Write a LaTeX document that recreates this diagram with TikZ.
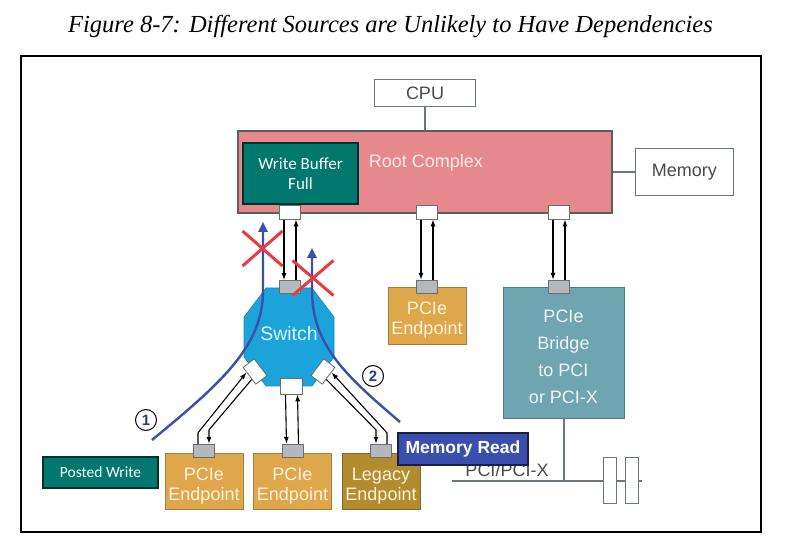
\documentclass[tikz,border=0pt]{standalone}
\usepackage{fontspec}
\usepackage{tikz}
\usetikzlibrary{positioning}
\usetikzlibrary{backgrounds}
\usetikzlibrary{calc}
\usetikzlibrary{arrows.meta}
\usetikzlibrary{shapes.misc}

\newfontfamily\diafont{Liberation Sans}
\newfontfamily\notefont{Carlito}
\newfontfamily\capfont{Liberation Serif}

\definecolor{rcpink}{HTML}{E5898D}
\definecolor{rcline}{HTML}{5E5E5E}
\definecolor{rctxt}{HTML}{FCE9EA}
\definecolor{wbteal}{HTML}{00786E}
\definecolor{swcyan}{HTML}{1BA3DA}
\definecolor{swtxt}{HTML}{DDF5FF}
\definecolor{epgold}{HTML}{DFA74C}
\definecolor{leggold}{HTML}{B48C30}
\definecolor{eptxt}{HTML}{FFF3DC}
\definecolor{brteal}{HTML}{6FA5B1}
\definecolor{brtxt}{HTML}{F0F6F7}
\definecolor{mrblue}{HTML}{3A4EAE}
\definecolor{flowblue}{HTML}{3B4FAE}
\definecolor{xred}{HTML}{E83A40}
\definecolor{numblue}{HTML}{2B3A8C}
\definecolor{portgrey}{HTML}{B5B9BE}
\definecolor{portline}{HTML}{6D6D6D}
\definecolor{boxgrey}{HTML}{6A787C}
\definecolor{txtgrey}{HTML}{4A4A4A}

\begin{document}
\begin{tikzpicture}[x=1pt,y=1pt,
		lbl/.style={font=\diafont\fontsize{18}{20}\selectfont},
		plainbox/.style={draw=boxgrey,line width=1.4pt,fill=white,text=txtgrey,lbl,inner sep=0pt},
		devbox/.style={draw=#1!75!black,line width=.5pt,fill=#1,inner sep=0pt},
		devtxt/.style={lbl,text=#1,align=center},
		tag/.style={draw=#1!40!black,line width=1.2pt,fill=#1,text=white,inner sep=0pt},
		wport/.style={draw=portline,line width=.8pt,fill=white,minimum width=21pt,minimum height=14pt,inner sep=0pt},
		gport/.style={wport,fill=portgrey,minimum height=13pt},
		link/.style={black,line width=1.1pt,-{Latex[length=7pt,width=5pt]}},
		flow/.style={flowblue,line width=2.4pt,-{Triangle[length=10pt,width=9pt]}},
		nogo/.style={cross out,draw=xred,line width=3pt,inner sep=0pt},
		numc/.style={circle,draw=black,line width=1pt,fill=white,minimum size=21pt,inner sep=0pt,font=\diafont\bfseries\fontsize{15}{15}\selectfont,text=numblue},
		busline/.style={boxgrey,line width=2pt},
		slot/.style={draw=boxgrey,line width=1pt,fill=white,minimum width=13pt,minimum height=45pt,inner sep=0pt}
	]
		\useasboundingbox (0,0) rectangle (812,-553);
		\node[font=\capfont\itshape\fontsize{24.5}{28}\selectfont] at (390.5,-27) (title) {Figure 8-7: Different Sources are Unlikely to Have Dependencies};
		\node[draw,line width=2pt,minimum width=740pt,minimum height=476pt,inner sep=0pt] at (390.7,-293.7) (frame) {};

		% host side
		\node[draw=rcline,line width=1.4pt,fill=rcpink,minimum width=374pt,minimum height=82pt,inner sep=0pt] at (425,-172) (root) {};
		\node[lbl,text=rctxt] at (426,-163) (rootlbl) {Root Complex};
		\node[plainbox,minimum width=101pt,minimum height=27pt,above = 23pt of root] (cpu) {CPU};
		\node[plainbox,minimum width=98pt,minimum height=47pt,right = 22pt of root] (mem) {Memory};
		\node[tag=wbteal,font=\notefont\fontsize{17}{20}\selectfont,align=center,minimum width=115pt,minimum height=61pt] at (300.5,-173.5) (wbuf) {Write Buffer\\Full};
		\node[wport] at (290,-212) (rp1) {};
		\node[wport] at (427,-212) (rp2) {};
		\node[wport] at (559,-212) (rp3) {};

		% switch
		\draw[fill=swcyan,draw=swcyan!85!black,line width=.6pt] (266,-288) -- (312,-288) -- (334,-317) -- (334,-357) -- (312,-386) -- (266,-386) -- (244,-357) -- (244,-317) -- cycle;
		\node[lbl,text=swtxt,font=\diafont\fontsize{19.5}{20}\selectfont] at (289,-334) (sw) {Switch};
		\node[gport] at (290,-287) (swt) {};
		\node[wport,minimum width=22pt,minimum height=16pt] at (291.5,-386) (swb) {};
		\node[wport,rotate=-53] at (255,-371.5) (swl) {};
		\node[wport,rotate=53] at (323,-371.5) (swr) {};

		% endpoints
		\node[devbox=epgold,minimum width=78pt,minimum height=56pt] at (204,-481) (ep1) {};
		\node[devbox=epgold,minimum width=78pt,minimum height=56pt,right = 10pt of ep1] (ep2) {};
		\node[devbox=leggold,minimum width=78pt,minimum height=56pt,right = 10pt of ep2] (leg) {};
		\node[devtxt=eptxt] at ([yshift=-5pt]ep1.center) (ep1t) {PCIe\\Endpoint};
		\node[devtxt=eptxt] at ([yshift=-5pt]ep2.center) (ep2t) {PCIe\\Endpoint};
		\node[devtxt=eptxt] at ([yshift=-5pt]leg.center) (legt) {Legacy\\Endpoint};
		\node[gport] at ([yshift=2pt]ep1.north) (ep1p) {};
		\node[gport] at ([yshift=2pt]ep2.north) (ep2p) {};
		\node[gport] at ([yshift=2pt]leg.north) (legp) {};

		\node[devbox=epgold,minimum width=78pt,minimum height=57pt] at (427,-315.5) (mep) {};
		\node[devtxt=eptxt] at ([yshift=-5pt]mep.center) (mept) {PCIe\\Endpoint};
		\node[gport] at (mep.north) (mepp) {};

		% bridge and bus
		\node[devbox=brteal,minimum width=121pt,minimum height=131pt] at (563.5,-352.5) (br) {};
		\node[devtxt=brtxt,font=\diafont\fontsize{18}{27}\selectfont] at ([yshift=-4.5pt]br.center) (brt) {PCIe\\Bridge\\to PCI\\or PCI-X};
		\node[gport] at ([xshift=-4.5pt]br.north) (brp) {};
		\coordinate (busw) at (452,-481);
		\coordinate (buse) at (642,-481);
		\draw[busline] (busw) -- (buse);
		\draw[busline] (br.south) -- (br.south |- busw);
		\node[lbl,text=txtgrey] at (507,-470) (pcilbl) {PCI/PCI-X};
		\node[slot] at (609.5,-480.5) (slot1) {};
		\node[slot,right = 8pt of slot1] (slot2) {};

		\node[tag=wbteal,font=\notefont\fontsize{15.5}{18}\selectfont,minimum width=115pt,minimum height=31pt] at (100.5,-472.5) (pw) {Posted Write};
		\node[tag=mrblue,font=\diafont\bfseries\fontsize{17.5}{20}\selectfont,minimum width=130pt,minimum height=32pt] at (463,-449) (mrd) {Memory Read};

		\begin{scope}[on background layer]
			\draw[boxgrey,line width=1.4pt] (cpu) -- (root);
			\draw[boxgrey,line width=1.4pt] (root) -- (mem);
			\draw[link] ([xshift=-6pt]rp1.south) -- ([xshift=-6pt]swt.north);
			\draw[link] ([xshift=6pt]swt.north) -- ([xshift=6pt]rp1.south);
			\draw[link] ([xshift=-6pt]rp2.south) -- ([xshift=-6pt]mepp.north);
			\draw[link] ([xshift=6pt]mepp.north) -- ([xshift=6pt]rp2.south);
			\draw[link] ([xshift=-6pt]rp3.south) -- ([xshift=-6pt]brp.north);
			\draw[link] ([xshift=6pt]brp.north) -- ([xshift=6pt]rp3.south);
			\draw[link] ([xshift=-6pt]swb.south) -- ([xshift=-6pt]ep2p.north);
			\draw[link] ([xshift=6pt]ep2p.north) -- ([xshift=6pt]swb.south);
			\draw[link] ([xshift=-6pt]ep1p.north) -- ([xshift=-6pt,yshift=11pt]ep1p.north) -- ($(swl.south west)!.3!(swl.south east)$);
			\draw[link] ($(swl.south west)!.7!(swl.south east)$) -- ([xshift=5pt,yshift=14pt]ep1p.north) -- ([xshift=5pt]ep1p.north);
			\draw[link] ($(swr.south west)!.3!(swr.south east)$) -- ([xshift=-5pt,yshift=14pt]legp.north) -- ([xshift=-5pt]legp.north);
			\draw[link] ([xshift=6pt]legp.north) -- ([xshift=6pt,yshift=11pt]legp.north) -- ($(swr.south west)!.7!(swr.south east)$);
		\end{scope}

		% flows
		\coordinate (f1s) at (152,-440);
		\coordinate (f1e) at (263,-222);
		\coordinate (f2s) at (400,-422);
		\coordinate (f2e) at (312,-248);
		\draw[flow] (f1s) .. controls (225,-380) and (263,-345) .. (263,-290) -- (f1e);
		\draw[flow] (f2s) .. controls (345,-375) and (312,-345) .. (312,-290) -- (f2e);
		\node[nogo,minimum width=37pt,minimum height=32pt] at (262.5,-248.5) (x1) {};
		\node[nogo,minimum width=38pt,minimum height=32pt] at (313,-278) (x2) {};
		\node[numc] at (146,-420) (n1) {1};
		\node[numc] at (373,-376) (n2) {2};
	\end{tikzpicture}
\end{document}
